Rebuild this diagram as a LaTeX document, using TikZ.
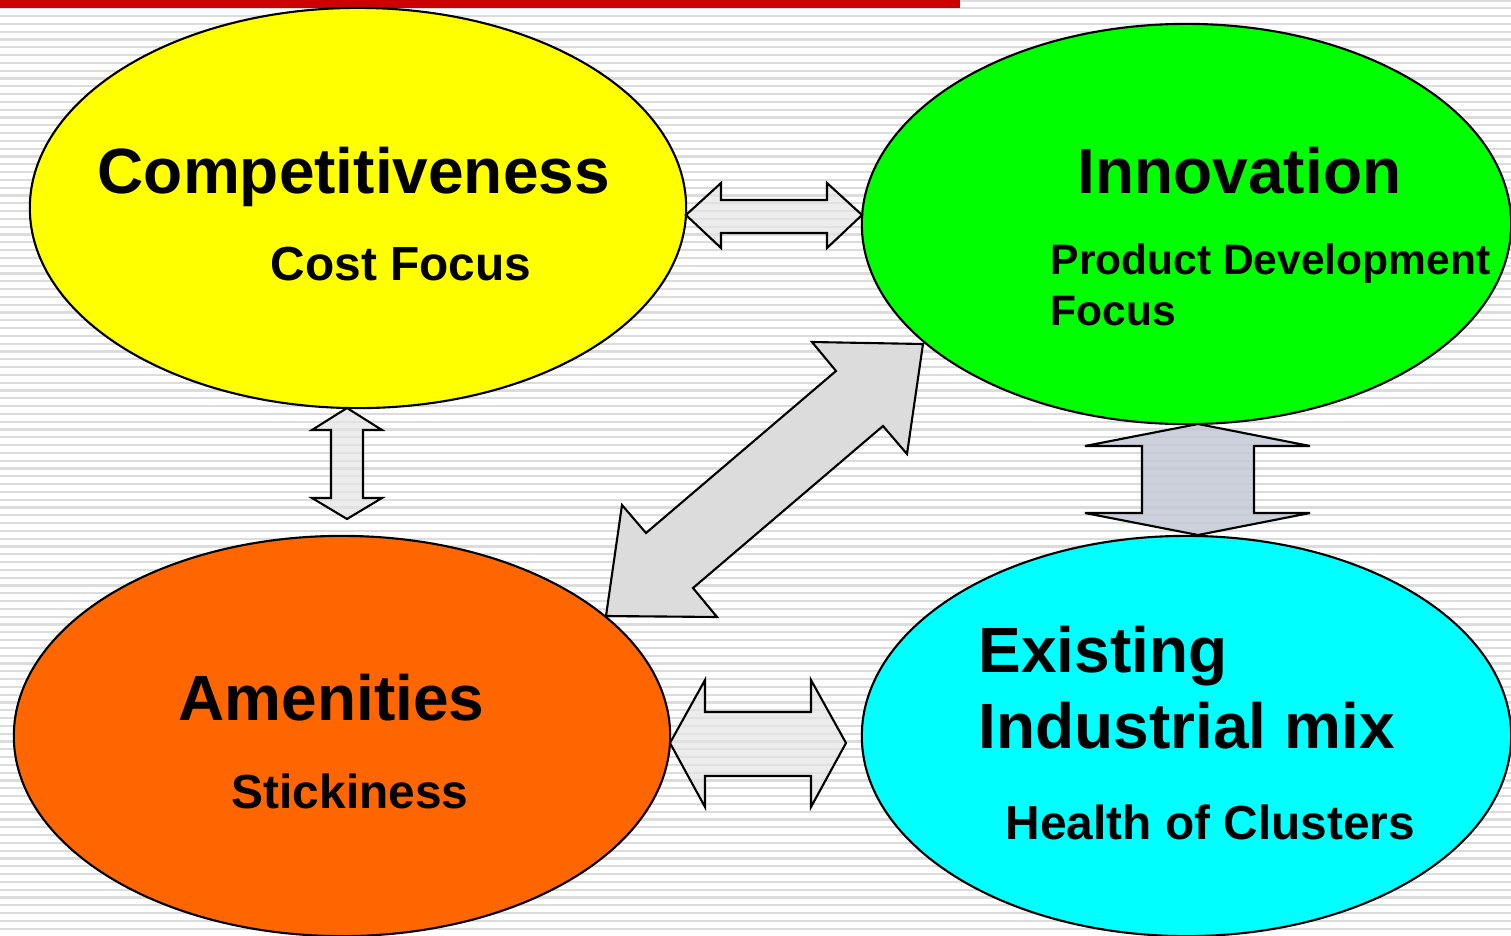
\documentclass[tikz,border=0pt]{standalone}
\usepackage{fontspec}
\setmainfont{Liberation Sans}
\usetikzlibrary{shapes.geometric}
\definecolor{redbar}{HTML}{CC0000}
\definecolor{stripegrey}{HTML}{DCDCDC}
\definecolor{paleblock}{HTML}{E4E4E4}
\definecolor{blueblock}{HTML}{C4C9D5}
\definecolor{diagblock}{HTML}{DCDCDC}
\definecolor{yellowfill}{HTML}{FFFF00}
\definecolor{greenfill}{HTML}{00FF00}
\definecolor{orangefill}{HTML}{FF6600}
\definecolor{cyanfill}{HTML}{00FFFF}
\tikzset{
  bubble/.style={ellipse, draw=black, line width=0.6pt, inner sep=0pt, outer sep=0pt,
    minimum width=6.56cm, minimum height=4cm},
  bigtext/.style={anchor=base west, inner sep=0pt, font=\fontsize{18.2}{21.8}\selectfont\bfseries},
  midtext/.style={anchor=base west, inner sep=0pt, font=\fontsize{13.6}{16}\selectfont\bfseries},
  smalltext/.style={anchor=base west, inner sep=0pt, font=\fontsize{12.1}{14.5}\selectfont\bfseries},
  blockarrow/.style={draw=black, line width=0.6pt, line join=miter},
  stripe/.style={draw=stripegrey, line width=0.6pt}
}
\begin{document}
\begin{tikzpicture}[x=0.01cm, y=-0.01cm]
  \useasboundingbox (0,0) rectangle (1511,936);
  \clip (0,0) rectangle (1511,936);
  % striped background
  \fill[white] (0,0) rectangle (1511,936);
  \foreach \y in {0.5,8.3,...,936} \draw[stripe] (0,\y) -- (1511,\y);
  \fill[redbar] (0,0) rectangle (960,8);
  % the four bubbles
  \node[bubble, fill=yellowfill] (comp) at (358,208) {};
  \node[bubble, fill=greenfill, minimum width=6.49cm] (innov) at (1186.5,224) {};
  \node[bubble, fill=orangefill] (amen) at (342,736) {};
  \node[bubble, fill=cyanfill, minimum width=6.49cm] (exist) at (1186.5,736) {};
  % block arrows
  \draw[blockarrow, fill=paleblock, fill opacity=0.7] (686,215) -- (721,183) -- (721,200) -- (827,200) -- (827,183)
    -- (862,215) -- (827,248) -- (827,233) -- (721,233) -- (721,248) -- cycle;
  \draw[blockarrow, fill=paleblock, fill opacity=0.7] (347,408) -- (382,430) -- (363,430) -- (363,498) -- (382,498)
    -- (347,519) -- (312,498) -- (331,498) -- (331,430) -- (312,430) -- cycle;
  \draw[blockarrow, fill=blueblock, fill opacity=0.85] (1198,424) -- (1310,446) -- (1254,446) -- (1254,513) -- (1310,513)
    -- (1198,535) -- (1085,513) -- (1142,513) -- (1142,446) -- (1085,446) -- cycle;
  \draw[blockarrow, fill=paleblock, fill opacity=0.7] (670,743) -- (705,680) -- (705,712) -- (811,712) -- (811,680)
    -- (846,743) -- (811,807) -- (811,776) -- (705,776) -- (705,807) -- cycle;
  \draw[blockarrow, fill=diagblock] (923,344) -- (907,454) -- (883,426) -- (693,588) -- (717,617)
    -- (606,616) -- (622,505) -- (646,533) -- (836,371) -- (812,342) -- cycle;
  % texts
  \node[bigtext] (comptitle) at (97,193) {Competitiveness};
  \node[midtext] (cost) at (270,280) {Cost Focus};
  \node[bigtext] (innovtitle) at (1077,193) {Innovation};
  \node[smalltext] (prodline) at (1050,274) {Product Development};
  \node[smalltext] (focusline) at (1050,325) {Focus};
  \node[bigtext] (existline) at (978,672) {Existing};
  \node[bigtext] (mixline) at (978,748) {Industrial mix};
  \node[midtext] (health) at (1005,839) {Health of Clusters};
  \node[bigtext] (amentitle) at (178,720) {Amenities};
  \node[midtext] (sticky) at (231,808) {Stickiness};
\end{tikzpicture}
\end{document}
